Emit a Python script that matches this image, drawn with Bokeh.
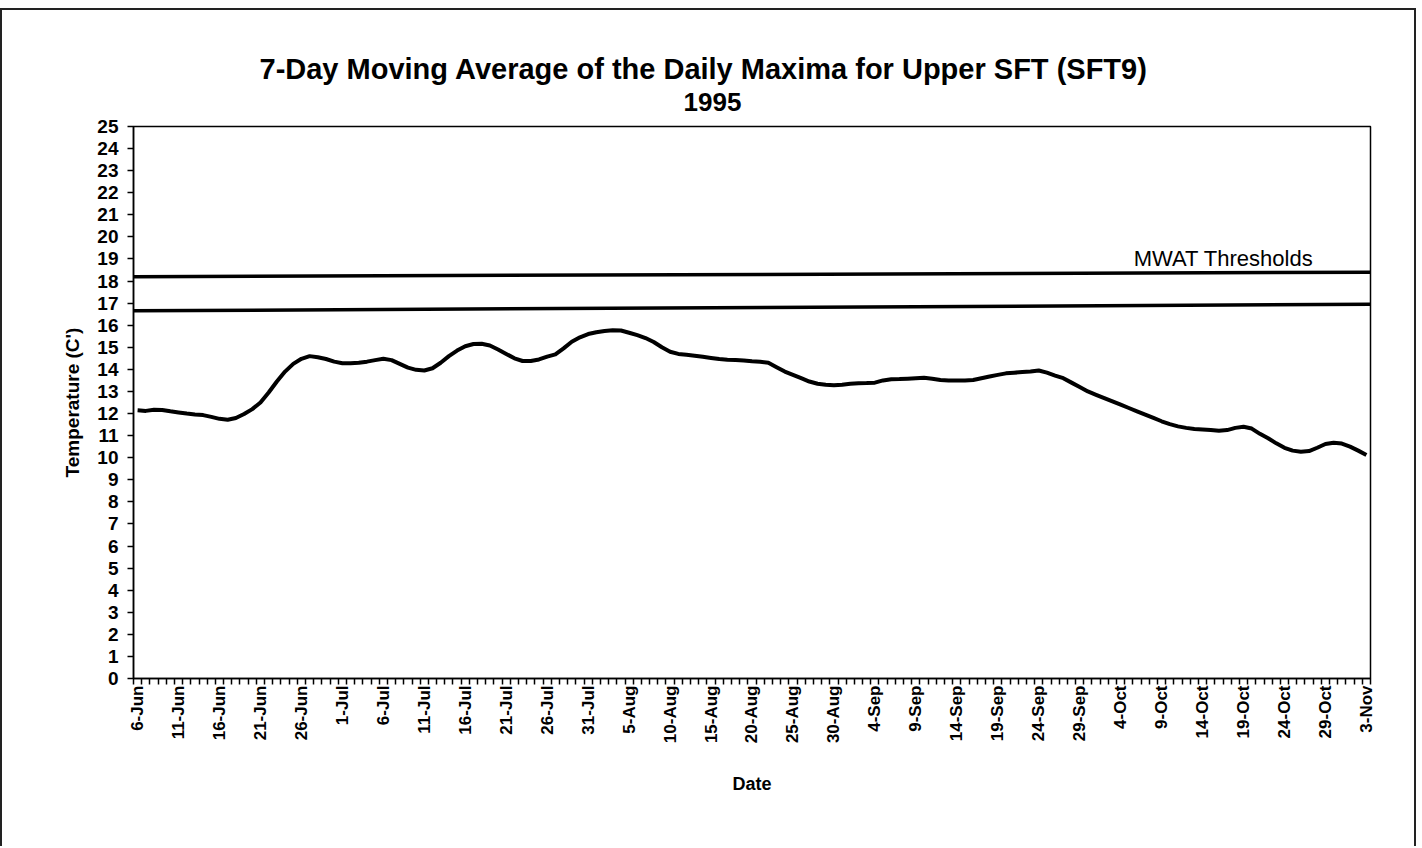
from bokeh.plotting import figure
from bokeh.models import Range1d, FixedTicker, Label, Title
from bokeh.embed import file_html
from bokeh.resources import INLINE

# ---- data ----
tick_labels = ["6-Jun", "11-Jun", "16-Jun", "21-Jun", "26-Jun", "1-Jul", "6-Jul", "11-Jul",
               "16-Jul", "21-Jul", "26-Jul", "31-Jul", "5-Aug", "10-Aug", "15-Aug", "20-Aug",
               "25-Aug", "30-Aug", "4-Sep", "9-Sep", "14-Sep", "19-Sep", "24-Sep", "29-Sep",
               "4-Oct", "9-Oct", "14-Oct", "19-Oct", "24-Oct", "29-Oct", "3-Nov"]
y_ticks = list(range(0, 26))

# 7-day moving average of daily maxima, one value per day from 6-Jun to 3-Nov 1995
mwat = [12.15, 12.12, 12.17, 12.16, 12.10, 12.05, 12.00, 11.96, 11.93, 11.85,
        11.76, 11.72, 11.80, 11.98, 12.20, 12.50, 12.95, 13.45, 13.90, 14.25,
        14.48, 14.60, 14.55, 14.47, 14.35, 14.28, 14.28, 14.30, 14.35, 14.42,
        14.48, 14.42, 14.25, 14.08, 13.98, 13.95, 14.05, 14.30, 14.60, 14.85,
        15.05, 15.15, 15.16, 15.08, 14.90, 14.70, 14.50, 14.38, 14.38, 14.45,
        14.58, 14.68, 14.95, 15.25, 15.45, 15.60, 15.68, 15.74, 15.77, 15.76,
        15.66, 15.55, 15.42, 15.24, 15.00, 14.80, 14.70, 14.66, 14.62, 14.57,
        14.52, 14.47, 14.44, 14.42, 14.40, 14.37, 14.35, 14.30, 14.10, 13.90,
        13.75, 13.60, 13.45, 13.35, 13.30, 13.28, 13.30, 13.35, 13.37, 13.38,
        13.40, 13.50, 13.55, 13.56, 13.58, 13.60, 13.62, 13.58, 13.52, 13.50,
        13.50, 13.50, 13.52, 13.60, 13.68, 13.75, 13.82, 13.85, 13.88, 13.90,
        13.95, 13.85, 13.72, 13.60, 13.40, 13.20, 13.00, 12.85, 12.70, 12.55,
        12.40, 12.25, 12.10, 11.95, 11.80, 11.65, 11.52, 11.42, 11.35, 11.30,
        11.28, 11.25, 11.22, 11.25, 11.35, 11.40, 11.32, 11.08, 10.88, 10.65,
        10.45, 10.32, 10.27, 10.30, 10.45, 10.62, 10.68, 10.64, 10.50, 10.32,
        10.12]
days = list(range(len(mwat)))

# MWAT threshold lines (value at start and end of the period)
thr_upper = [18.2, 18.4]
thr_lower = [16.65, 16.95]

FONT = "Liberation Sans"

x0, x1 = -0.5, len(mwat) - 0.5
p = figure(width=1416, height=838, output_backend="svg", toolbar_location=None,
           x_range=Range1d(x0, x1), y_range=Range1d(0, 25),
           min_border_left=131, min_border_right=48, min_border_top=116, min_border_bottom=170)
p.styles = {"margin-top": "8px", "border-left": "2px solid #222", "border-top": "2px solid #222",
            "border-right": "2px solid #222"}

p.xgrid.visible = False
p.ygrid.visible = False
p.outline_line_color = "black"
p.outline_line_width = 1.5

# lines
p.line([x0, x1], thr_upper, line_color="black", line_width=3.5)
p.line([x0, x1], thr_lower, line_color="black", line_width=3.5)
p.line(days, mwat, line_color="black", line_width=4, line_join="round")

# x axis
major = [i * 5 for i in range(len(tick_labels))]
p.xaxis.ticker = FixedTicker(ticks=major, minor_ticks=[i - 0.5 for i in range(len(mwat) + 1)])
p.xaxis.major_label_overrides = {m: t for m, t in zip(major, tick_labels)}
p.xaxis.major_label_orientation = 1.5707963
p.xaxis.major_tick_out = 0
p.xaxis.major_tick_in = 0
p.xaxis.minor_tick_out = 6
p.xaxis.minor_tick_in = 0
p.xaxis.minor_tick_line_width = 1.5
p.xaxis.axis_line_width = 1.5
p.xaxis.major_label_text_font = FONT
p.xaxis.major_label_text_font_style = "bold"
p.xaxis.major_label_text_font_size = "17px"
p.xaxis.major_label_text_color = "black"
p.xaxis.major_label_standoff = 1
p.xaxis.axis_label = "Date"
p.xaxis.axis_label_text_font = FONT
p.xaxis.axis_label_text_font_style = "bold"
p.xaxis.axis_label_text_font_size = "18px"
p.xaxis.axis_label_text_color = "black"
p.xaxis.axis_label_standoff = 28

# y axis
p.yaxis.ticker = FixedTicker(ticks=y_ticks, minor_ticks=[])
p.yaxis.major_tick_out = 6
p.yaxis.major_tick_in = 0
p.yaxis.major_tick_line_width = 1.5
p.yaxis.axis_line_width = 1.5
p.yaxis.major_label_text_font = FONT
p.yaxis.major_label_text_font_style = "bold"
p.yaxis.major_label_text_font_size = "19px"
p.yaxis.major_label_text_color = "black"
p.yaxis.major_label_standoff = 9
p.yaxis.axis_label = "Temperature (C')"
p.yaxis.axis_label_text_font = FONT
p.yaxis.axis_label_text_font_style = "bold"
p.yaxis.axis_label_text_font_size = "19px"
p.yaxis.axis_label_text_color = "black"
p.yaxis.axis_label_standoff = 11

# titles (first added sits nearest the frame)
p.add_layout(Title(text="1995", align="left", offset=550, text_font=FONT, text_font_style="bold",
                   text_font_size="26px", text_color="black", standoff=32), "above")
p.add_layout(Title(text="7-Day Moving Average of the Daily Maxima for Upper SFT (SFT9)",
                   align="left", offset=126, text_font=FONT, text_font_style="bold",
                   text_font_size="29px", text_color="black", standoff=-20), "above")

p.add_layout(Label(x=121.6, y=18.5, y_offset=-1, text="MWAT Thresholds", text_align="left",
                   text_baseline="bottom", text_font=FONT, text_font_size="22px", text_color="black"))

open("out.html", "w").write(file_html(p, INLINE))
